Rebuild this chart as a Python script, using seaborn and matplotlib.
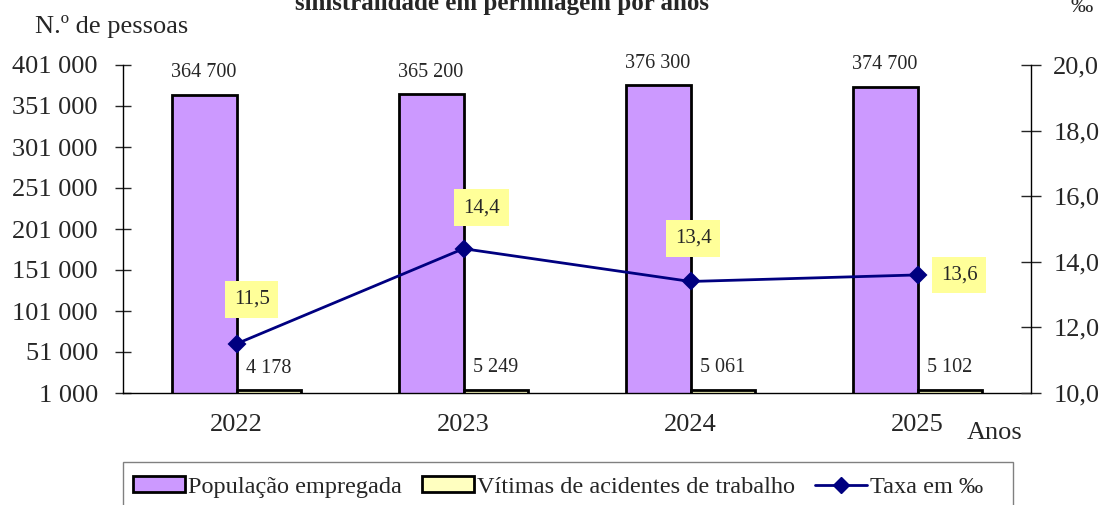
import matplotlib
matplotlib.use("Agg")
import matplotlib.pyplot as plt
import matplotlib.ticker as mticker
from matplotlib.patches import Patch, Rectangle
from matplotlib.lines import Line2D
import seaborn as sns
import pandas as pd
import numpy as np

# ---- data ----
anos = ["2022", "2023", "2024", "2025"]
populacao = [364700, 365200, 376300, 374700]
vitimas = [4178, 5249, 5061, 5102]
taxa = [11.5, 14.4, 13.4, 13.6]
series = ["População empregada", "Vítimas de acidentes de trabalho"]
left_ticks = [1000, 51000, 101000, 151000, 201000, 251000, 301000, 351000, 401000]
right_ticks = [10, 12, 14, 16, 18, 20]

sns.set_style("white")
plt.rcParams["font.family"] = ["Liberation Serif", "DejaVu Serif"]

df = pd.DataFrame({
    "Ano": anos * 2,
    "Série": [series[0]] * 4 + [series[1]] * 4,
    "Valor": populacao + vitimas,
})

fig = plt.figure(figsize=(11.03, 5.05), dpi=100)
ax = fig.add_axes([123 / 1103, 1 - 393 / 505, (1031 - 123) / 1103, (393 - 65) / 505])

purple = "#CC99FF"
yellow = "#FFFFC0"
navy = "#000080"

sns.barplot(data=df, x="Ano", y="Valor", hue="Série", hue_order=series,
            palette=[purple, yellow], width=0.572, edgecolor="black",
            linewidth=2.0, saturation=1, ax=ax, legend=False)

fmt = lambda v: f"{int(v):,}".replace(",", " ")
for cont in ax.containers:
    ax.bar_label(cont, labels=[fmt(b.get_height()) for b in cont],
                 padding=9, fontsize=14.5)

ax.set_ylim(1000, 401000)
ax.set_yticks(left_ticks)
ax.yaxis.set_major_formatter(mticker.FuncFormatter(lambda v, p: fmt(v)))
ax.set_xlabel("")
ax.set_ylabel("")
ax.set_xlim(-0.5, 3.5)
ax.set_xticks(range(4))
ax.set_xticklabels(anos)
ax.set_xticks(np.arange(-0.5, 4.0, 1.0), minor=True)
ax.tick_params(axis="x", which="major", length=0, labelsize=19, pad=15)
ax.tick_params(axis="x", which="minor", length=12, direction="inout", width=1)
ax.tick_params(axis="y", length=12, direction="inout", width=1, labelsize=19, pad=12,
               left=True)
for s in ["top", "right"]:
    ax.spines[s].set_visible(False)
for s in ["left", "bottom"]:
    ax.spines[s].set_linewidth(1)
    ax.spines[s].set_color("black")

ax2 = ax.twinx()
sns.pointplot(x=anos, y=taxa, ax=ax2, color=navy, markers="D",
              linewidth=2, markersize=8, errorbar=None)
ax2.set_ylim(10, 20)
ax2.set_xlim(-0.5, 3.5)
ax2.set_yticks(right_ticks)
ax2.yaxis.set_major_formatter(mticker.FuncFormatter(lambda v, p: f"{v:.1f}".replace(".", ",")))
ax2.tick_params(axis="y", length=14, direction="inout", width=1, labelsize=19, pad=9,
                right=True)
for s in ["top", "left", "bottom"]:
    ax2.spines[s].set_visible(False)
ax2.spines["right"].set_color("black")
ax2.spines["right"].set_linewidth(1)
ax2.set_ylabel("")

offsets = [(11, 32), (13, 29.5), (2, 31), (30, 0)]
for i, (v, off) in enumerate(zip(taxa, offsets)):
    ax2.annotate(f"{v:.1f}".replace(".", ","), (i, v), xytext=off,
                 textcoords="offset points", ha="center", va="center", fontsize=15,
                 bbox=dict(boxstyle="square,pad=0.42", fc="#FFFF99", ec="none"))

fig.text(502 / 1103, 1 - 10 / 505, "sinistralidade em permilagem por anos",
         ha="center", va="baseline", fontsize=18, fontweight="bold")
fig.text(35 / 1103, 1 - 27 / 505, "N.º de pessoas", ha="left", va="center", fontsize=19)
fig.text(1082 / 1103, 1 - 8 / 505, "‰", ha="center", va="center", fontsize=16)
fig.text(995 / 1103, 1 - 433 / 505, "Anos", ha="center", va="center", fontsize=19)

handles = [
    Patch(facecolor=purple, edgecolor="black", linewidth=2),
    Patch(facecolor=yellow, edgecolor="black", linewidth=2),
    Line2D([], [], color=navy, marker="D", markersize=8, linewidth=2),
]
leg = fig.legend(handles, series + ["Taxa em ‰"], loc="center left",
                 bbox_to_anchor=(133 / 1103, 1 - 487 / 505), ncol=3, frameon=False,
                 fontsize=17.5, handlelength=2.14, handleheight=0.6,
                 handletextpad=0.12, columnspacing=0.82,
                 borderaxespad=0, borderpad=0)
fig.add_artist(Rectangle((123 / 1103, 1 - 515 / 505), (1013 - 123) / 1103, (515 - 462) / 505,
                         transform=fig.transFigure, fill=False, edgecolor="#808080",
                         linewidth=1, clip_on=False))

fig.savefig("out.png", dpi=100)
